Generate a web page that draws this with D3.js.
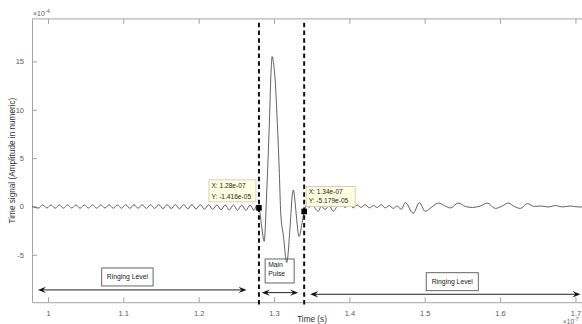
<!DOCTYPE html>
<html><head><meta charset="utf-8">
<script src="https://cdn.jsdelivr.net/npm/d3@7"></script>
<style>
html,body{margin:0;padding:0;background:#fff;}
svg{display:block;font-family:"Liberation Sans",Arial,Helvetica,sans-serif;}
</style></head><body>
<svg id="chart" width="582" height="324"></svg>
<script>
// Time axis in units of 1e-7 s, amplitude in units of 1e-4
const signalTime = [
  0.9790, 0.9876, 0.9931, 0.9986, 1.0041, 1.0096, 1.0151, 1.0206, 1.0261, 1.0316,
  1.0371, 1.0426, 1.0481, 1.0536, 1.0591, 1.0646, 1.0701, 1.0756, 1.0811, 1.0866,
  1.0921, 1.0976, 1.1031, 1.1086, 1.1141, 1.1196, 1.1251, 1.1306, 1.1361, 1.1416,
  1.1471, 1.1526, 1.1581, 1.1636, 1.1691, 1.1746, 1.1801, 1.1856, 1.1911, 1.1966,
  1.2021, 1.2076, 1.2131, 1.2186, 1.2241, 1.2296, 1.2351, 1.2406, 1.2461, 1.2516,
  1.2571, 1.2626, 1.2681, 1.2736, 1.2766, 1.2800,
  1.2835, 1.2869, 1.2904, 1.2938, 1.2962, 1.2975, 1.2990, 1.3014, 1.3044, 1.3071,
  1.3089, 1.3124, 1.3169, 1.3213, 1.3244, 1.3257, 1.3275, 1.3293, 1.3333, 1.3370,
  1.3400,
  1.3436, 1.3467, 1.3506, 1.3546, 1.3586, 1.3626, 1.3679, 1.3732, 1.3785, 1.3838,
  1.3892, 1.3945, 1.3998, 1.4051, 1.4104, 1.4157, 1.4210, 1.4264, 1.4317, 1.4370,
  1.4423, 1.4476, 1.4529, 1.4582, 1.4635, 1.4688, 1.4742, 1.4848, 1.4928, 1.5007,
  1.5087, 1.5180, 1.5260, 1.5339, 1.5446, 1.5539, 1.5632, 1.5738, 1.5831, 1.5937,
  1.6017, 1.6110, 1.6190, 1.6269, 1.6362, 1.6455, 1.6548, 1.6641, 1.6734, 1.6827,
  1.6933, 1.7039, 1.7199
];
const signalAmp = [
  0.00, -0.16, 0.16, -0.16, 0.16, -0.18, 0.15, -0.18, 0.16, -0.16,
  0.16, -0.18, 0.15, -0.16, 0.16, -0.18, 0.16, -0.16, 0.18, -0.18,
  0.16, -0.18, 0.18, -0.20, 0.18, -0.18, 0.18, -0.20, 0.18, -0.20,
  0.20, -0.22, 0.18, -0.22, 0.20, -0.24, 0.20, -0.24, 0.20, -0.26,
  0.18, -0.28, 0.18, -0.30, 0.16, -0.34, 0.16, -0.36, 0.15, -0.38,
  0.15, -0.40, 0.13, -0.40, 0.10, -0.1416,
  -2.0, -3.6, 1.7, 8.6, 14.2, 15.5, 15.0, 13.2, 8.6, 3.4,
  -0.7, -3.0, -5.8, -2.1, 1.3, 1.7, 0.8, -0.7, -3.1, -1.8,
  -0.5179,
  0.15, -0.10, 0.30, -0.20, -0.50, 0.00, -0.30, 0.10, -0.50, 0.00,
  0.15, -0.10, 0.20, -0.15, 0.15, -0.10, 0.20, -0.15, 0.10, -0.10,
  0.20, -0.15, 0.10, -0.20, 0.05, -0.30, 0.40, -0.70, 0.40, -0.50,
  -0.10, 0.35, 0.10, -0.15, 0.35, 0.00, -0.10, 0.05, 0.35, -0.20,
  0.00, 0.35, 0.00, -0.20, 0.30, 0.00, 0.05, -0.05, 0.10, -0.05,
  0.05, -0.05, 0.00
];
const xTickValues = [1, 1.1, 1.2, 1.3, 1.4, 1.5, 1.6, 1.7];
const xTickLabels = ["1", "1.1", "1.2", "1.3", "1.4", "1.5", "1.6", "1.7"];
const yTickValues = [-5, 0, 5, 10, 15];
const yTickLabels = ["-5", "0", "5", "10", "15"];

// Pulse boundaries and the data tips placed on them
const cursorTimes = [1.28, 1.34];
const tipAmps = [-0.1416, -0.5179];
const tipLines = [["X: 1.28e-07", "Y: -1.416e-05"], ["X: 1.34e-07", "Y: -5.179e-05"]];

// Region annotations: double arrows with captions
const spanLabels = [["Ringing Level"], ["Main", "Pulse"], ["Ringing Level"]];
const spanStart = [0.9867, 1.2838, 1.3480];
const spanEnd = [1.2635, 1.3320, 1.7066];

// layout of annotation items (axis units)
const layout = {
  spanLevel: [-8.63, -8.91, -9.08],
  boxX: [[1.0713, 1.1395], [1.2882, 1.3267], [1.5020, 1.5711]],
  boxY: [[-6.36, -8.22], [-5.43, -7.91], [-6.85, -8.71]],
  cursorTop: 19.0, cursorBottom: -10.2
};

const svg = d3.select("#chart");
const x = d3.scaleLinear().domain([0.9788, 1.7200]).range([32, 590.5]);
const y = d3.scaleLinear().domain([-9.9, 19.4]).range([302.2, 18.9]);

const axisCol = "#a3a3a3", textCol = "#5a5a5a";

// axes box (top + left + bottom; right edge falls outside the view)
const g = svg.append("g");
g.append("line").attr("x1", x.range()[0]).attr("x2", x.range()[1])
  .attr("y1", y.range()[1]).attr("y2", y.range()[1])
  .attr("stroke", axisCol).attr("stroke-width", 1);

const xAxisB = d3.axisBottom(x).tickValues(xTickValues)
  .tickFormat((d, i) => xTickLabels[i]).tickSizeInner(-5).tickSizeOuter(0).tickPadding(8);
const gx = g.append("g").attr("transform", `translate(0,${y.range()[0]})`).call(xAxisB);
const xAxisT = d3.axisTop(x).tickValues(xTickValues).tickFormat("").tickSizeInner(-5).tickSizeOuter(0);
const gxt = g.append("g").attr("transform", `translate(0,${y.range()[1]})`).call(xAxisT);
gxt.select(".domain").remove();

const yAxisL = d3.axisLeft(y).tickValues(yTickValues)
  .tickFormat((d, i) => yTickLabels[i]).tickSizeInner(-5).tickSizeOuter(0).tickPadding(8);
const gy = g.append("g").attr("transform", `translate(${x.range()[0]},0)`).call(yAxisL);

[gx, gxt, gy].forEach(a => {
  a.selectAll(".domain").attr("stroke", axisCol).attr("stroke-width", 1);
  a.selectAll(".tick line").attr("stroke", axisCol).attr("stroke-width", 1);
  a.selectAll(".tick text").attr("fill", textCol).attr("font-size", 7.5)
    .attr("font-family", '"Liberation Sans",Arial,sans-serif');
});
gx.selectAll(".tick text").attr("dy", "0.71em");

// exponent labels
const e1 = g.append("text").attr("x", 33).attr("y", 16).attr("fill", textCol).attr("font-size", 7);
e1.append("tspan").text("\u00d710");
e1.append("tspan").attr("dy", -3.5).attr("font-size", 5.5).text("-4");
const e2 = g.append("text").attr("x", 563).attr("y", 323.6).attr("fill", textCol).attr("font-size", 6.5);
e2.append("tspan").text("\u00d710");
e2.append("tspan").attr("dy", -2.2).attr("font-size", 5).text("-7");

// axis titles
g.append("text").attr("transform", `translate(15,${(y.range()[0] + y.range()[1]) / 2}) rotate(-90)`)
  .attr("text-anchor", "middle").attr("fill", "#333").attr("font-size", 8.2)
  .text("Time signal (Amplitude in numeric)");
g.append("text").attr("x", 312).attr("y", 322).attr("text-anchor", "middle")
  .attr("fill", "#333").attr("font-size", 8.2).text("Time (s)");

// signal trace
const pts = signalTime.map((t, i) => [t, signalAmp[i]]);
const line = d3.line().x(d => x(d[0])).y(d => y(d[1])).curve(d3.curveMonotoneX);
svg.append("path").datum(pts).attr("d", line)
  .attr("fill", "none").attr("stroke", "#444").attr("stroke-width", 0.85);

// pulse boundary cursors
svg.selectAll(".cursor").data(cursorTimes).join("line")
  .attr("x1", d => x(d)).attr("x2", d => x(d))
  .attr("y1", y(layout.cursorTop)).attr("y2", y(layout.cursorBottom))
  .attr("stroke", "#111").attr("stroke-width", 2).attr("stroke-dasharray", "4.5,3.2");

// double arrows
function head(px, py, dir) {
  const L = 8, Wd = 3.2, N = 5;
  return `M${px},${py} L${px - dir * L},${py - Wd} L${px - dir * N},${py} L${px - dir * L},${py + Wd} Z`;
}
spanStart.forEach((s, i) => {
  const yy = y(layout.spanLevel[i]);
  const x0 = x(s), x1 = x(spanEnd[i]);
  svg.append("line").attr("x1", x0 + 4).attr("x2", x1 - 4).attr("y1", yy).attr("y2", yy)
    .attr("stroke", "#222").attr("stroke-width", 1);
  svg.append("path").attr("d", head(x0, yy, -1)).attr("fill", "#111");
  svg.append("path").attr("d", head(x1, yy, 1)).attr("fill", "#111");
  // caption box
  const bx = layout.boxX[i], by = layout.boxY[i];
  const rx = x(bx[0]), rw = x(bx[1]) - x(bx[0]);
  const ry = y(by[0]), rh = y(by[1]) - y(by[0]);
  svg.append("rect").attr("x", rx).attr("y", ry).attr("width", rw).attr("height", rh)
    .attr("fill", "none").attr("stroke", "#555").attr("stroke-width", 0.9);
  const lines = spanLabels[i];
  const tx = svg.append("text").attr("font-size", 6.8).attr("fill", "#222");
  if (lines.length === 1) {
    tx.attr("x", rx + rw / 2).attr("y", ry + rh / 2 + 2.4).attr("text-anchor", "middle").text(lines[0]);
  } else {
    lines.forEach((l, k) => tx.append("tspan").attr("x", rx + 3).attr("y", ry + 8 + k * 9.5).text(l));
  }
});

// data tips
cursorTimes.forEach((t, i) => {
  const mx = x(t), my = y(tipAmps[i]);
  const bw = i === 0 ? 47 : 49, bh = i === 0 ? 22 : 20;
  const bx = i === 0 ? mx - 3 - bw : mx + 2;
  const by = i === 0 ? my - 6 - bh : my - 5 - bh;
  svg.append("rect").attr("x", bx).attr("y", by).attr("width", bw).attr("height", bh)
    .attr("fill", "#ffffe1").attr("stroke", "#c8c8a8").attr("stroke-width", 0.8);
  tipLines[i].forEach((l, k) => {
    svg.append("text").attr("x", bx + 2.5).attr("y", by + (i === 0 ? 8 : 7.5) + k * (i === 0 ? 11 : 9.5))
      .attr("font-size", 6.6).attr("fill", "#222").text(l);
  });
  svg.append("rect").attr("x", mx - 2.8).attr("y", my - 2.8).attr("width", 5.6).attr("height", 5.6)
    .attr("fill", "#000");
});
</script>
</body></html>
